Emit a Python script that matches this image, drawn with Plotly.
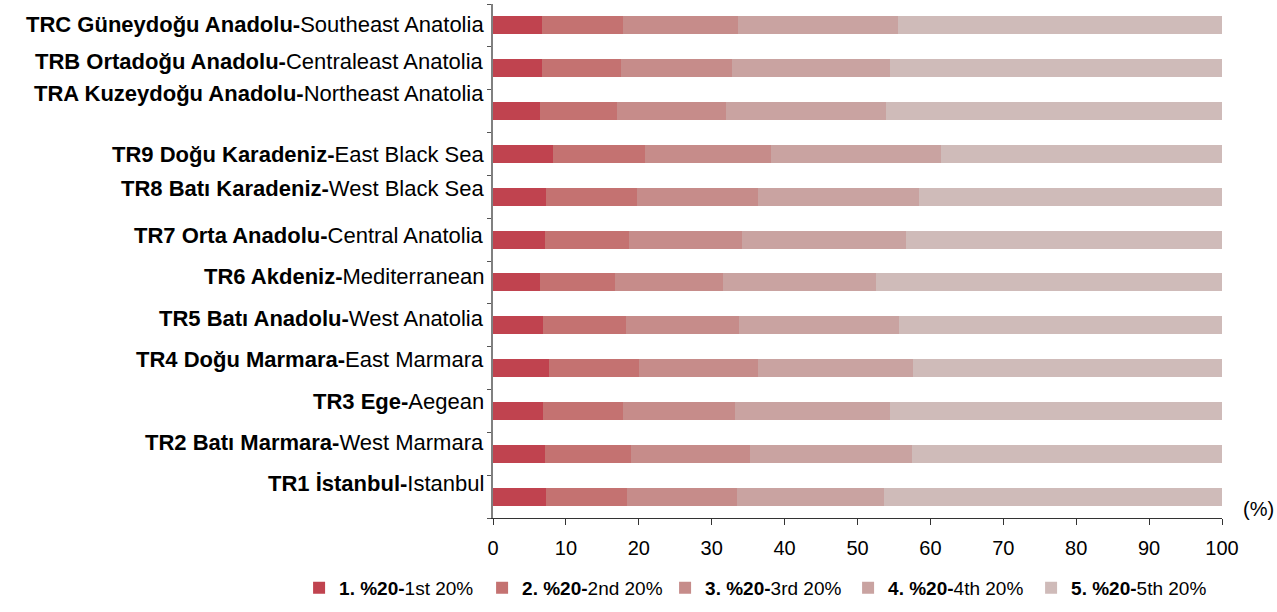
import plotly.graph_objects as go

# regions listed bottom to top, as drawn
region_tr = ["TR1 İstanbul", "TR2 Batı Marmara", "TR3 Ege", "TR4 Doğu Marmara",
             "TR5 Batı Anadolu", "TR6 Akdeniz", "TR7 Orta Anadolu", "TR8 Batı Karadeniz",
             "TR9 Doğu Karadeniz", "TRA Kuzeydoğu Anadolu", "TRB Ortadoğu Anadolu",
             "TRC Güneydoğu Anadolu"]
region_en = ["Istanbul", "West Marmara", "Aegean", "East Marmara", "West Anatolia",
             "Mediterranean", "Central Anatolia", "West Black Sea", "East Black Sea",
             "Northeast Anatolia", "Centraleast Anatolia", "Southeast Anatolia"]

# share of income by quintile (%)
q1 = [7.3, 7.1, 6.9, 7.7, 6.9, 6.5, 7.1, 7.3, 8.2, 6.5, 6.7, 6.7]
q2 = [11.1, 11.8, 11.0, 12.3, 11.4, 10.3, 11.5, 12.5, 12.7, 10.5, 10.8, 11.2]
q3 = [15.1, 16.4, 15.3, 16.4, 15.5, 14.7, 15.6, 16.6, 17.2, 15.0, 15.3, 15.7]
q4 = [20.2, 22.2, 21.3, 21.2, 21.9, 21.1, 22.5, 22.1, 23.3, 21.9, 21.6, 22.0]
q5 = [46.3, 42.5, 45.5, 42.4, 44.3, 47.4, 43.3, 41.5, 38.6, 46.1, 45.6, 44.4]

quintile_tr = ["1. %20-", "2. %20-", "3. %20-", "4. %20-", "5. %20-"]
quintile_en = ["1st 20%", "2nd 20%", "3rd 20%", "4th 20%", "5th 20%"]

colors = ["#C0434F", "#C47271", "#C68C8A", "#C9A3A1", "#CFBBB9"]
# small vertical nudges of the region labels (px), as in the original layout
label_nudge = [13, 11, 9, 9, 7, 6, 4, 8, -1, 18, 7, 1]

FONT = "Liberation Sans, Arial, sans-serif"

fig = go.Figure()
for vals, tr, en, c in zip([q1, q2, q3, q4, q5], quintile_tr, quintile_en, colors):
    fig.add_trace(go.Bar(
        x=vals, y=region_tr, orientation="h",
        name="<b>{}</b>{}".format(tr, en),
        marker=dict(color=c, line=dict(width=0))))

for name, en, dy in zip(region_tr, region_en, label_nudge):
    fig.add_annotation(
        x=0, xref="paper", y=name, yref="y",
        text="<b>{}-</b>{}".format(name, en),
        showarrow=False, xanchor="right", yanchor="middle",
        xshift=-7, yshift=dy,
        font=dict(family=FONT, size=22, color="#000"))

fig.add_annotation(
    x=1, xref="paper", y=0, yref="paper",
    text="(%)", showarrow=False, xanchor="left", yanchor="bottom",
    xshift=19, yshift=-4, font=dict(family=FONT, size=20, color="#000"))

fig.update_layout(
    barmode="stack", bargap=0.58,
    width=1277, height=612,
    margin=dict(l=493, r=55, t=4, b=94),
    plot_bgcolor="white", paper_bgcolor="white",
    font=dict(family=FONT, color="#000"),
    legend=dict(orientation="h", traceorder="normal",
                x=-0.266, y=-0.136, xanchor="left", yanchor="middle",
                font=dict(family=FONT, size=19, color="#000"),
                entrywidth=138, entrywidthmode="pixels"),
    xaxis=dict(range=[0, 100], dtick=10, showgrid=False, zeroline=False,
               showline=True, linecolor="#333", linewidth=1,
               ticks="outside", ticklen=6, tickcolor="#333", ticklabelstandoff=6,
               tickfont=dict(family=FONT, size=20, color="#000")),
    yaxis=dict(showticklabels=False, showgrid=False, zeroline=False,
               showline=True, linecolor="#808080", linewidth=1.5,
               ticks="outside", ticklen=4, tickcolor="#555", tickson="boundaries"),
)

fig.write_html("out.html", config={"displayModeBar": False},
               post_script="document.body.style.margin = '0';")
